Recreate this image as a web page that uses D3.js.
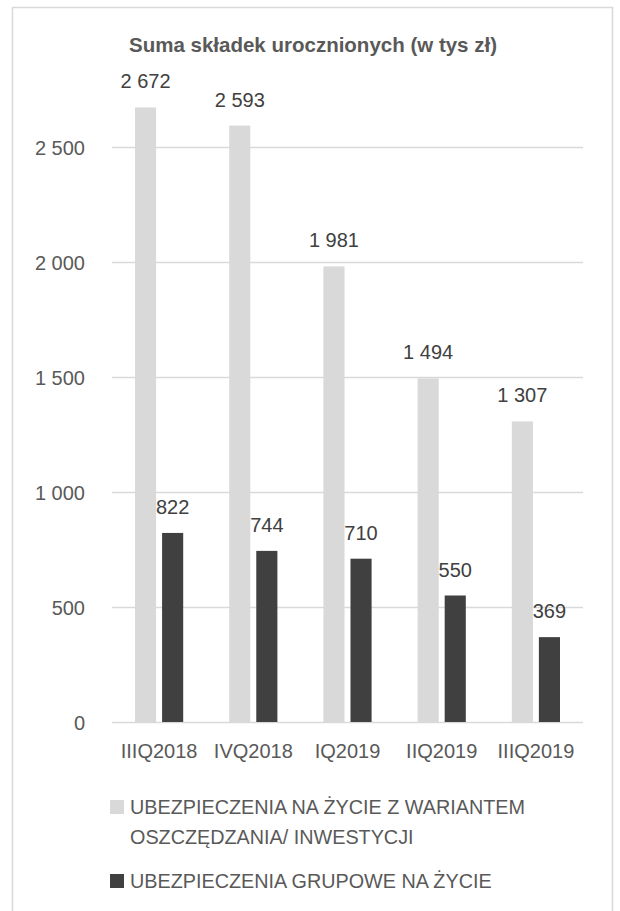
<!DOCTYPE html>
<html>
<head>
<meta charset="utf-8">
<script src="https://cdn.jsdelivr.net/npm/d3@7"></script>
<style>
  html, body { margin: 0; padding: 0; background: #fff; overflow: hidden; }
  svg { display: block; }
  text { font-family: "Liberation Sans", Arial, sans-serif; fill: #595959; }
</style>
</head>
<body>
<div id="chart"></div>
<script>
// dane
const quarters = ["IIIQ2018", "IVQ2018", "IQ2019", "IIQ2019", "IIIQ2019"];
const savingsValues = [2672, 2593, 1981, 1494, 1307];
const groupValues = [822, 744, 710, 550, 369];
const yTicks = [0, 500, 1000, 1500, 2000, 2500];
const seriesNames = [
    ["UBEZPIECZENIA NA ŻYCIE Z WARIANTEM", "OSZCZĘDZANIA/ INWESTYCJI"],
    ["UBEZPIECZENIA GRUPOWE NA ŻYCIE"]
];
const title = "Suma składek urocznionych (w tys zł)";

const width = 620;
const height = 911;
const margin = { left: 112, right: 37, top: 32, bottom: 189 };
const innerWidth = width - margin.left - margin.right;
const innerHeight = height - margin.top - margin.bottom;

const fmt = v => d3.format(",")(v).replace(/,/g, " ");

const svg = d3.select("#chart")
    .append("svg")
    .attr("width", width)
    .attr("height", height);

// ramka (dolna krawędź poza kadrem)
svg.append("path")
    .attr("d", "M12.5,911 V7.5 H612.5 V911")
    .attr("fill", "none")
    .attr("stroke", "#d9d9d9")
    .attr("stroke-width", 1.5);

svg.append("text")
    .attr("x", 313)
    .attr("y", 52)
    .attr("text-anchor", "middle")
    .style("font-size", "20.5px")
    .style("font-weight", "bold")
    .text(title);

const g = svg.append("g")
    .attr("transform", `translate(${margin.left}, ${margin.top})`);

const x = d3.scaleBand()
    .domain(quarters)
    .range([0, innerWidth]);

const subgroups = ["savings", "group"];
const xSub = d3.scaleBand()
    .domain(subgroups)
    .range([23, x.bandwidth() - 23])
    .paddingInner(0.22);

const y = d3.scaleLinear()
    .domain([0, 3000])
    .range([innerHeight, 0]);

const color = d3.scaleOrdinal()
    .domain(subgroups)
    .range(["#d9d9d9", "#404040"]);

// siatka
g.append("g")
    .call(d3.axisLeft(y).tickValues(yTicks).tickSize(-innerWidth).tickFormat(fmt))
    .call(a => a.select(".domain").remove())
    .call(a => a.selectAll("line").attr("stroke", "#d9d9d9").attr("stroke-width", 1.5))
    .call(a => a.selectAll("text")
        .attr("x", -27)
        .attr("dy", "0.35em")
        .style("font-size", "20px")
        .style("font-family", "Liberation Sans, Arial, sans-serif")
        .attr("fill", "#595959"));

const rows = quarters.map((q, i) => ({
    q: q,
    vals: [{ key: "savings", value: savingsValues[i] }, { key: "group", value: groupValues[i] }]
}));

const groups = g.append("g")
    .selectAll("g")
    .data(rows)
    .enter()
    .append("g")
    .attr("transform", d => `translate(${x(d.q)},0)`);

groups.selectAll("rect")
    .data(d => d.vals)
    .enter()
    .append("rect")
    .attr("x", d => xSub(d.key))
    .attr("y", d => y(d.value))
    .attr("width", xSub.bandwidth())
    .attr("height", d => innerHeight - y(d.value))
    .attr("fill", d => color(d.key));

groups.selectAll("text.lbl")
    .data(d => d.vals)
    .enter()
    .append("text")
    .attr("class", "lbl")
    .attr("x", d => xSub(d.key) + xSub.bandwidth() / 2)
    .attr("y", d => y(d.value) - 19)
    .attr("text-anchor", "middle")
    .style("font-size", "20px")
    .style("fill", "#404040")
    .text(d => fmt(d.value));

// oś X
g.append("g")
    .attr("transform", `translate(0, ${innerHeight})`)
    .call(d3.axisBottom(x).tickSize(0).tickPadding(22))
    .call(a => a.select(".domain").remove())
    .call(a => a.selectAll("text")
        .style("font-size", "20px")
        .style("font-family", "Liberation Sans, Arial, sans-serif")
        .attr("fill", "#595959"));

// legenda
const legendY = [800, 874];
const legend = svg.append("g");
seriesNames.forEach((lines, i) => {
    legend.append("rect")
        .attr("x", 110).attr("y", legendY[i])
        .attr("width", 14).attr("height", 14)
        .attr("fill", color(subgroups[i]));
    lines.forEach((t, j) => {
        legend.append("text")
            .attr("x", 130)
            .attr("y", legendY[i] + 14 + j * 30)
            .style("font-size", "19.8px")
            .text(t);
    });
});
</script>
</body>
</html>
